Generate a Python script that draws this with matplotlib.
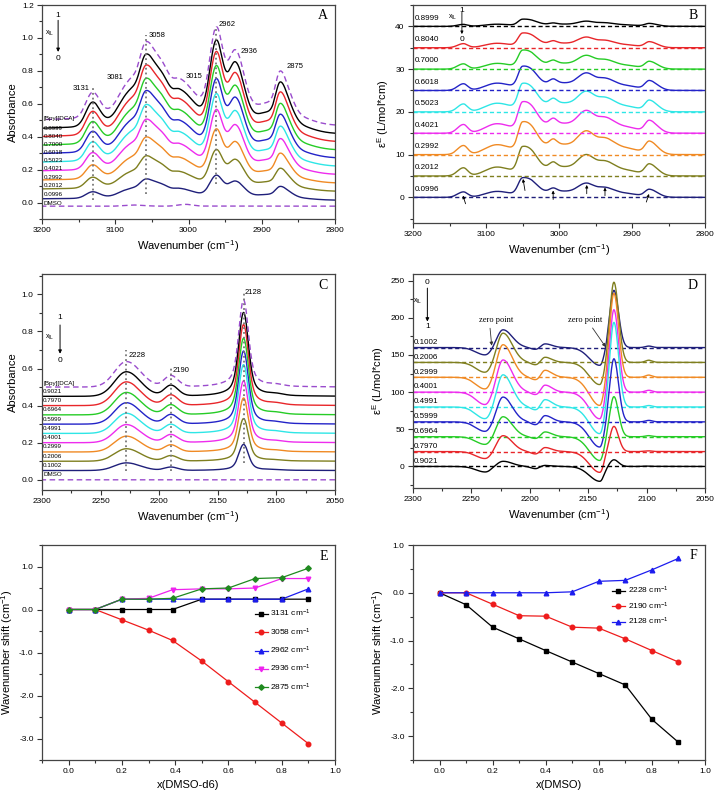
import numpy as np
import matplotlib
matplotlib.use('Agg')
import matplotlib.pyplot as plt
from matplotlib.ticker import MultipleLocator, FormatStrFormatter

plt.rcParams['font.family'] = ['Liberation Sans', 'DejaVu Sans']
plt.rcParams['mathtext.fontset'] = 'custom'
plt.rcParams['mathtext.rm'] = 'Liberation Sans'
plt.rcParams['mathtext.it'] = 'Liberation Sans:italic'
plt.rcParams['mathtext.bf'] = 'Liberation Sans:bold'
plt.rcParams['axes.unicode_minus'] = False

# series colours, from low x_IL to high x_IL
seriesColors = ['#1f1f7a', '#7f7f1f', '#f08a24', '#ee2cee', '#2ee6e6',
                '#2323c8', '#26cc26', '#e8262a', '#000000']
pureColor = '#9a4ccd'

# ---- panel A: C-H region absorbance ----
aLabels = ['0.0996', '0.2012', '0.2992', '0.4021', '0.5023',
           '0.6018', '0.7000', '0.8040', '0.8999']
aOffsets = [0.014, 0.068, 0.118, 0.17, 0.22, 0.27, 0.319, 0.369, 0.418]
aScales = [0.254, 0.424, 0.55, 0.66, 0.737, 0.805, 0.856, 0.915, 0.95]
aPureOffset = 0.468
aDmsoOffset = -0.022
# peak table of the pure IL spectrum (asymmetric Gaussians)
aCenters = [3030, 3150, 3131, 3081, 3058, 3035, 3012, 2992, 2962, 2936, 2895, 2875, 2862, 2860]
aHeights = [0.16, 0.04, 0.15, 0.15, 0.33, 0.15, 0.10, 0.05, 0.525, 0.416, 0.11, 0.194, 0.07, 0.06]
aSigmaHi = [45, 100, 9, 14, 9, 10, 8, 12, 9, 10, 20, 6, 8, 25]
aSigmaLo = [45, 100, 10, 10, 12, 10, 12, 12, 9, 12, 20, 8, 8, 25]
aDmsoCenters = [3072, 3004]
aDmsoHeights = [0.007, 0.011]
aDmsoSigma = [12, 10]

# ---- panel B: excess spectra, C-H region ----
bLabels = aLabels
bOffsets = [0, 5, 10, 15, 20, 25, 30, 35, 40]
bScales = [0.60, 0.90, 1.0, 0.96, 0.87, 0.74, 0.58, 0.45, 0.22]
bCenters = [3131, 3085, 3050, 3035, 3000, 3008, 2962, 2936, 2910, 2876]
bHeights = [2.1, 2.3, 6.45, 1.4, 2.4, 1.3, 4.9, 2.8, 1.5, 2.83]
bSigmaHi = [8, 16, 6, 8, 28, 5, 12, 10, 20, 6]
bSigmaLo = [6, 20, 14, 8, 22, 5, 12, 12, 20, 11]

# ---- panel C: C≡N region absorbance ----
cLabels = ['0.1002', '0.2006', '0.2999', '0.4001', '0.4991',
           '0.5999', '0.6964', '0.7970', '0.9021']
cOffsets = [0.05, 0.10, 0.15, 0.20, 0.25, 0.30, 0.35, 0.40, 0.45]
cScales = [0.30, 0.49, 0.62, 0.71, 0.79, 0.84, 0.88, 0.93, 0.963]
cPureOffset = 0.50
cDmsoOffset = 0.0
cCenters = [2228, 2190, 2128, 2128, 2100]
cHeights = [0.137, 0.06, 0.32, 0.15, 0.008]
cWidthHi = [10, 5.5, 3.8, 8, 6]
cWidthLo = [12, 6, 3.8, 8, 6]
cShapes = ['G', 'G', 'G', 'L', 'G']

# ---- panel D: excess spectra, C≡N region ----
dLabels = cLabels
dOffsets = [160, 140, 120, 100, 80, 60, 40, 20, 0]
dCenters = [2238, 2223, 2195, 2187, 2140, 2128, 2098]
dSigmaHi = [8, 5, 4, 3, 9, 3.5, 3]
dSigmaLo = [5, 8, 3, 6, 3.5, 4, 3]
dNeg2238 = [-10, -13.5, -16, -17, -16, -13, -10.5, -9.5, -7.5]
dPos2223 = [24, 39.5, 44, 43.5, 43.5, 33.5, 27, 21.5, 7]
dNeg2195 = [-2.5, -3.3, -3.5, -3.5, -4, -4, -2.5, -3.3, -3]
dPos2187 = [5, 7, 9.5, 9.5, 10, 8.5, 6.5, 5.5, 1.5]
dNeg2140 = [-24, -30, -38, -36, -36, -34, -32, -28, -20]
dPos2128 = [77, 108, 113, 111, 114, 85, 54, 34, 9]
dPos2098 = [2, 3, 3, 2.5, 2, 2, 1.5, 1, 0.5]

# ---- panel E: shifts of C-H bands ----
eX = [0, 0.1, 0.2, 0.3, 0.39, 0.5, 0.6, 0.7, 0.8, 0.9]
e3131 = [0, 0, 0, 0, 0, 0.24, 0.24, 0.24, 0.24, 0.24]
e3058 = [0, 0, -0.24, -0.48, -0.72, -1.2, -1.68, -2.16, -2.64, -3.12]
e2962 = [0, 0, 0.24, 0.24, 0.24, 0.24, 0.24, 0.24, 0.24, 0.48]
e2936 = [0, 0, 0.24, 0.26, 0.46, 0.48, 0.48, 0.5, 0.72, 0.72]
e2875 = [0, 0, 0.24, 0.24, 0.26, 0.48, 0.5, 0.72, 0.74, 0.96]

# ---- panel F: shifts of C≡N bands ----
fX = [0, 0.1, 0.2, 0.3, 0.4, 0.5, 0.6, 0.7, 0.8, 0.9]
f2228 = [0, -0.25, -0.72, -0.965, -1.21, -1.45, -1.69, -1.93, -2.65, -3.13]
f2190 = [0, 0, -0.24, -0.48, -0.49, -0.72, -0.74, -0.965, -1.21, -1.45]
f2128 = [0, 0, 0, 0, 0, 0.02, 0.24, 0.26, 0.48, 0.72]


def peakSum(x, centers, heights, widthsHi, widthsLo, shapes=None):
    if shapes is None:
        shapes = ['G'] * len(centers)
    y = np.zeros_like(x)
    for c, h, wHi, wLo, shape in zip(centers, heights, widthsHi, widthsLo, shapes):
        w = np.where(x >= c, wHi, wLo)
        u = (x - c) / w
        if shape == 'L':
            y += h / (1 + u ** 2)
        else:
            y += h * np.exp(-0.5 * u ** 2)
    return y


def styleAxis(ax, xlim, ylim, xMajor, xMinor, yMajor, yMinor, xFmt, yFmt):
    ax.set_xlim(*xlim)
    ax.set_ylim(*ylim)
    ax.xaxis.set_major_locator(MultipleLocator(xMajor))
    ax.xaxis.set_minor_locator(MultipleLocator(xMinor))
    ax.yaxis.set_major_locator(MultipleLocator(yMajor))
    ax.yaxis.set_minor_locator(MultipleLocator(yMinor))
    ax.xaxis.set_major_formatter(FormatStrFormatter(xFmt))
    ax.yaxis.set_major_formatter(FormatStrFormatter(yFmt))
    ax.tick_params(which='both', direction='out', top=False, right=False,
                   labelsize=6, width=0.8, color='#333333')
    ax.tick_params(which='major', length=3.5, pad=2.5)
    ax.tick_params(which='minor', length=2)
    for sp in ax.spines.values():
        sp.set_linewidth(0.9)
        sp.set_color('#444444')


def panelLetter(ax, letter, y):
    ax.text(0.975, y, letter, transform=ax.transAxes, ha='right', va='center',
            fontsize=10, family=['Liberation Serif', 'DejaVu Serif'])


def xilArrow(ax, x, yTop, yBottom, xLabel, yLabel, top, bottom, size):
    ax.text(x, yTop, top, ha='center', va='center', fontsize=size)
    ax.text(x, yBottom, bottom, ha='center', va='center', fontsize=size)
    ax.text(xLabel, yLabel, r'x$_{\rm IL}$', ha='center', va='center', fontsize=size - 1)


def arrow(ax, tail, head, lw=0.7, scale=5):
    ax.annotate('', xy=head, xytext=tail,
                arrowprops=dict(arrowstyle='-|>', lw=lw, color='black',
                                mutation_scale=scale, shrinkA=0, shrinkB=0))


fig = plt.figure(figsize=(7.16, 7.96), dpi=100)
axA = fig.add_axes([42 / 716, 1 - 219 / 796, 293 / 716, 214 / 796])
axB = fig.add_axes([413 / 716, 1 - 223 / 796, 292 / 716, 218 / 796])
axC = fig.add_axes([42 / 716, 1 - 490 / 796, 293 / 716, 216 / 796])
axD = fig.add_axes([413 / 716, 1 - 488 / 796, 292 / 716, 214 / 796])
axE = fig.add_axes([42 / 716, 1 - 760 / 796, 293 / 716, 215 / 796])
axF = fig.add_axes([413 / 716, 1 - 760 / 796, 292 / 716, 215 / 796])

wnLabel = r'Wavenumber (cm$^{-1}$)'
epsLabel = r'ε$^{\rm E}$ (L/mol*cm)'
lw = 1.0

# ---------------- A ----------------
xA = np.linspace(2800, 3200, 1601)
shapeA = peakSum(xA, aCenters, aHeights, aSigmaHi, aSigmaLo)
dmsoA = peakSum(xA, aDmsoCenters, aDmsoHeights, aDmsoSigma, aDmsoSigma)
axA.plot(xA, aDmsoOffset + dmsoA, color=pureColor, lw=lw, dashes=(4, 2.5))
for lbl, off, sc, col in zip(aLabels, aOffsets, aScales, seriesColors):
    axA.plot(xA, off + sc * shapeA, color=col, lw=lw)
    axA.text(3198, off + 0.034, lbl, fontsize=4.5, ha='left', va='center')
axA.plot(xA, aPureOffset + shapeA, color=pureColor, lw=lw, dashes=(4, 2.5))
axA.text(3198, aPureOffset + 0.04, '[Bpy][DCA]', fontsize=4.5, ha='left', va='center')
axA.text(3198, aDmsoOffset + 0.016, 'DMSO', fontsize=4.5, ha='left', va='center')
axA.vlines([3131, 3058, 2962], [0.015, 0.05, 0.11], [0.71, 1.02, 1.07],
           colors='#777777', linestyles=':', lw=1.3)
for txt, x, y, ha in [('3131', 3135, 0.69, 'right'), ('3081', 3100, 0.76, 'center'),
                      ('3058', 3055, 1.016, 'left'), ('3015', 2993, 0.768, 'center'),
                      ('2962', 2959, 1.08, 'left'), ('2936', 2929, 0.92, 'left'),
                      ('2875', 2866, 0.825, 'left')]:
    axA.text(x, y, txt, fontsize=5.5, ha=ha, va='center')
xilArrow(axA, 3178, 1.137, 0.875, 3189, 1.026, '1', '0', 6)
arrow(axA, (3178, 1.107), (3178, 0.915))
styleAxis(axA, (3200, 2800), (-0.1, 1.2), 100, 50, 0.2, 0.1, '%d', '%.1f')
axA.set_xlabel(wnLabel, fontsize=8, labelpad=3)
axA.set_ylabel('Absorbance', fontsize=8, labelpad=3)
panelLetter(axA, 'A', 0.953)

# ---------------- B ----------------
shapeB = peakSum(xA, bCenters, bHeights, bSigmaHi, bSigmaLo)
for lbl, off, sc, col in zip(bLabels, bOffsets, bScales, seriesColors):
    axB.axhline(off, color=col, lw=lw, dashes=(3, 2))
    axB.plot(xA, off + sc * shapeB, color=col, lw=lw)
    axB.text(3198, off + 1.9, lbl, fontsize=5.8, ha='left', va='center')
xilArrow(axB, 3133, 43.8, 37.0, 3146, 42, '1', '0', 6)
arrow(axB, (3133, 43.3), (3133, 38.2), lw=0.6, scale=4)
for tail, head in [((3128, -1.5), (3131.5, 0.4)), ((3046.6, 1.6), (3049.3, 4.3)),
                   ((3008, -0.5), (3008, 1.6)), ((2962, 0.85), (2962, 2.9)),
                   ((2937, 0.4), (2937, 2.3)), ((2880.4, -1.1), (2876.7, 0.8))]:
    arrow(axB, tail, head, lw=0.6, scale=4)
styleAxis(axB, (3200, 2800), (-6, 45), 100, 50, 10, 5, '%d', '%d')
axB.set_xlabel(wnLabel, fontsize=8, labelpad=3)
axB.set_ylabel(epsLabel, fontsize=8, labelpad=3)
panelLetter(axB, 'B', 0.954)

# ---------------- C ----------------
xC = np.linspace(2050, 2300, 1501)
shapeC = peakSum(xC, cCenters, cHeights, cWidthHi, cWidthLo, cShapes)
axC.plot(xC, np.full_like(xC, cDmsoOffset), color=pureColor, lw=lw, dashes=(4, 2.5))
for lbl, off, sc, col in zip(cLabels, cOffsets, cScales, seriesColors):
    axC.plot(xC, off + sc * shapeC, color=col, lw=lw)
    axC.text(2299, off + 0.027, lbl, fontsize=4.5, ha='left', va='center')
axC.plot(xC, cPureOffset + shapeC, color=pureColor, lw=lw, dashes=(4, 2.5))
axC.text(2299, cPureOffset + 0.022, '[Bpy][DCA]', fontsize=4.5, ha='left', va='center')
axC.text(2299, cDmsoOffset + 0.027, 'DMSO', fontsize=4.5, ha='left', va='center')
axC.vlines([2228, 2190, 2128], [0.05, 0.05, 0.09], [0.70, 0.61, 1.02],
           colors='#777777', linestyles=':', lw=1.3)
for txt, x, y in [('2228', 2226.5, 0.673), ('2190', 2189, 0.589), ('2128', 2127, 1.011)]:
    axC.text(x, y, txt, fontsize=5.5, ha='left', va='center')
xilArrow(axC, 2284.6, 0.876, 0.643, 2293, 0.768, '1', '0', 6)
arrow(axC, (2284.6, 0.835), (2284.6, 0.68))
styleAxis(axC, (2300, 2050), (-0.055, 1.11), 50, 25, 0.2, 0.1, '%d', '%.1f')
axC.set_xlabel(wnLabel, fontsize=8, labelpad=3)
axC.set_ylabel('Absorbance', fontsize=8, labelpad=3)
panelLetter(axC, 'C', 0.949)

# ---------------- D ----------------
dAmps = list(zip(dNeg2238, dPos2223, dNeg2195, dPos2187, dNeg2140, dPos2128, dPos2098))
for k, (lbl, off) in enumerate(zip(dLabels, dOffsets)):
    col = seriesColors[k]
    curve = peakSum(xC, dCenters, dAmps[k], dSigmaHi, dSigmaLo)
    axD.axhline(off, color=col, lw=lw, dashes=(3, 2))
    axD.plot(xC, off + curve, color=col, lw=lw)
    axD.text(2299, off + 7, lbl, fontsize=5.8, ha='left', va='center')
serif = ['Liberation Serif', 'DejaVu Serif']
axD.annotate('zero point', xy=(2232.6, 162.5), xytext=(2228.5, 197), fontsize=6,
             family=serif, ha='center', va='center',
             arrowprops=dict(arrowstyle='-|>', lw=0.6, color='#333333', mutation_scale=5,
                             shrinkA=1, shrinkB=0, relpos=(0.3, 0)))
axD.annotate('zero point', xy=(2135, 160.7), xytext=(2153, 197), fontsize=6,
             family=serif, ha='center', va='center',
             arrowprops=dict(arrowstyle='-|>', lw=0.6, color='#333333', mutation_scale=5,
                             shrinkA=1, shrinkB=0, relpos=(0.65, 0)))
xilArrow(axD, 2287.7, 247.8, 188.5, 2296, 222, '0', '1', 6)
arrow(axD, (2287.7, 240), (2287.7, 195))
styleAxis(axD, (2300, 2050), (-29, 259), 50, 25, 50, 25, '%d', '%d')
axD.set_xlabel(wnLabel, fontsize=8, labelpad=3)
axD.set_ylabel(epsLabel, fontsize=8, labelpad=3)
panelLetter(axD, 'D', 0.948)

# ---------------- E ----------------
eSeries = [(e3131, 's', 'black', '3131'), (e3058, 'o', '#ee1c1c', '3058'),
           (e2962, '^', '#1c1cee', '2962'), (e2936, 'v', '#ee22ee', '2936'),
           (e2875, 'D', '#1f8a1f', '2875')]
for vals, mk, col, name in eSeries:
    ms = 2.8 if mk == 'D' else 3.3
    axE.plot(eX, vals, marker=mk, color=col, lw=0.9, ms=ms,
             label=name + r' cm$^{-1}$')
axE.legend(frameon=False, fontsize=6, loc='center left', bbox_to_anchor=(0.70, 0.51),
           handlelength=1.6, labelspacing=0.85, handletextpad=0.3)
styleAxis(axE, (-0.1, 1.0), (-3.5, 1.5), 0.2, 0.1, 1.0, 0.5, '%.1f', '%.1f')
axE.set_xlabel('x(DMSO-d6)', fontsize=8, labelpad=3)
axE.set_ylabel(r'Wavenumber shift (cm$^{-1}$)', fontsize=8, labelpad=3)
panelLetter(axE, 'E', 0.946)

# ---------------- F ----------------
fSeries = [(f2228, 's', 'black', '2228'), (f2190, 'o', '#ee1c1c', '2190'),
           (f2128, '^', '#1c1cee', '2128')]
for vals, mk, col, name in fSeries:
    axF.plot(fX, vals, marker=mk, color=col, lw=0.9, ms=3.3, label=name + r' cm$^{-1}$')
axF.legend(frameon=False, fontsize=6, loc='center left', bbox_to_anchor=(0.655, 0.716),
           handlelength=1.6, labelspacing=0.5, handletextpad=0.3)
styleAxis(axF, (-0.1, 1.0), (-3.5, 1.0), 0.2, 0.1, 1.0, 0.5, '%.1f', '%.1f')
axF.set_xlabel('x(DMSO)', fontsize=8, labelpad=3)
axF.set_ylabel(r'Wavenumber shift (cm$^{-1}$)', fontsize=8, labelpad=3)
panelLetter(axF, 'F', 0.953)

fig.savefig('out.png', dpi=100)
